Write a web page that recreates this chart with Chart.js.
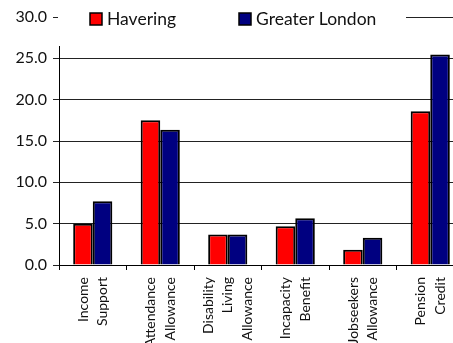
<!DOCTYPE html>
<html>
<head>
<meta charset="utf-8">
<script src="https://cdn.jsdelivr.net/npm/chart.js@4.4.0/dist/chart.umd.min.js"></script>
<style>
  html, body { margin: 0; padding: 0; background: #fff; overflow: hidden; }
  #wrap { width: 453px; height: 343px; overflow: hidden; }
</style>
</head>
<body>
<div id="wrap"><canvas id="myChart" width="470" height="343" style="width:470px;height:343px"></canvas></div>
<script>
const ctx = document.getElementById('myChart')

// data (percent)
const categories = [['Income', 'Support'], ['Attendance', 'Allowance'], ['Disability', 'Living', 'Allowance'], ['Incapacity', 'Benefit'], ['Jobseekers', 'Allowance'], ['Pension', 'Credit']]
const seriesNames = ['Havering', 'Greater London']
const haveringValues = [5.0, 17.5, 3.7, 4.7, 1.85, 18.6]
const londonValues = [7.7, 16.35, 3.7, 5.65, 3.3, 25.45]
const yTicks = [0, 5, 10, 15, 20, 25, 30]

const textColor = '#111'

// white box with the legend, sitting over the top of the plot
const legendInside = {
  id: 'legendInside',
  afterDraw(chart) {
    const c = chart.ctx
    c.save()
    c.fillStyle = '#fff'
    c.fillRect(58, 0, 348, 46)
    const xs = [90, 239]
    chart.data.datasets.forEach((ds, i) => {
      c.fillStyle = ds.backgroundColor
      c.fillRect(xs[i], 13, 12, 12)
      c.strokeStyle = '#000'
      c.lineWidth = 1.5
      c.strokeRect(xs[i], 13, 12, 12)
      c.fillStyle = textColor
      c.font = '17.5px Lato'
      c.textBaseline = 'middle'
      c.fillText(ds.label, xs[i] + 17, 19.5)
    })
    c.restore()
  }
}

// rotated, centred multi-line category labels
const xLabels = {
  id: 'xLabels',
  afterDraw(chart) {
    const c = chart.ctx
    const sx = chart.scales.x
    c.save()
    c.font = '14px Lato'
    c.fillStyle = textColor
    c.textAlign = 'right'
    c.textBaseline = 'middle'
    chart.data.labels.forEach((lines, i) => {
      const px = sx.getPixelForValue(i)
      lines.forEach((t, j) => {
        const x = px + (j - (lines.length - 1) / 2) * 19.5
        c.save()
        c.translate(x, 277)
        c.rotate(-Math.PI / 2)
        c.fillText(t, 0, 0)
        c.restore()
      })
    })
    c.restore()
  }
}

new Chart(ctx, {
  type: 'bar',
  data: {
    labels: categories,
    datasets: [{
      label: seriesNames[0],
      data: haveringValues,
      backgroundColor: '#ff0000',
      borderColor: '#000',
      borderWidth: 2,
      barPercentage: 1,
      categoryPercentage: 0.58
    }, {
      label: seriesNames[1],
      data: londonValues,
      backgroundColor: '#000080',
      borderColor: '#000',
      borderWidth: 2,
      barPercentage: 1,
      categoryPercentage: 0.58
    }]
  },
  options: {
    responsive: false,
    animation: false,
    layout: {
      padding: { top: 17, right: 6, left: 0, bottom: 0 }
    },
    scales: {
      x: {
        grid: { display: true, drawOnChartArea: false, offset: true, tickLength: 5, color: '#000' },
        border: { color: '#000', width: 1 },
        ticks: { display: false },
        afterFit(scale) { scale.height = 78 }
      },
      y: {
        min: 0,
        max: 30,
        afterBuildTicks(scale) { scale.ticks = yTicks.map(v => ({ value: v })) },
        grid: { color: '#222', tickLength: 6 },
        border: { color: '#000', width: 1 },
        ticks: {
          padding: 6,
          color: textColor,
          font: { family: 'Lato', size: 16 },
          callback: v => Number(v).toFixed(1)
        },
        afterFit(scale) { scale.width = 59 }
      }
    },
    plugins: {
      tooltip: { enabled: false },
      legend: { display: false }
    }
  },
  plugins: [legendInside, xLabels]
});
</script>
</body>
</html>
